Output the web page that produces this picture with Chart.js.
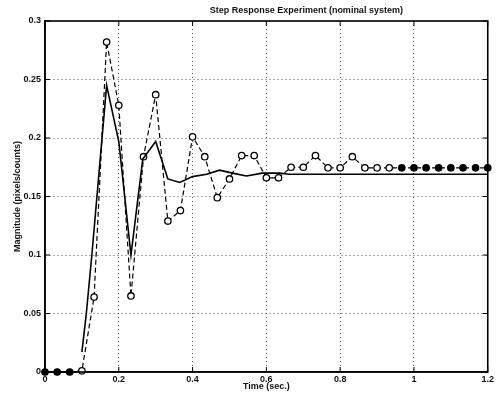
<!DOCTYPE html>
<html><head><meta charset="utf-8">
<script src="https://cdn.jsdelivr.net/npm/chart.js@4.4.1/dist/chart.umd.min.js"></script>
<style>html,body{margin:0;padding:0;background:#fff}canvas{display:block}</style>
</head><body>
<canvas id="c" width="496" height="398"></canvas>
<script>
const chartTitle = 'Step Response Experiment (nominal system)';
const xAxisTitle = 'Time (sec.)';
const yAxisTitle = 'Magnitude (pixels/counts)';
const xTickLabels = ['0','0.2','0.4','0.6','0.8','1','1.2'];
const yTickLabels = ['0','0.05','0.1','0.15','0.2','0.25','0.3'];

// experimental samples (dashed line with circles)
const expTimes = [0,0.033,0.067,0.1,0.133,0.167,0.2,0.233,0.267,0.3,0.333,0.367,0.4,0.433,0.467,0.5,0.533,0.567,0.6,0.633,0.667,0.7,0.733,0.767,0.8,0.833,0.867,0.9,0.933,0.967,1.0,1.033,1.067,1.1,1.133,1.167,1.2];
const expValues = [0,0,0,0.001,0.064,0.282,0.228,0.065,0.184,0.237,0.129,0.138,0.201,0.184,0.149,0.165,0.185,0.185,0.166,0.166,0.175,0.175,0.185,0.1745,0.1745,0.184,0.1745,0.1745,0.1745,0.1745,0.1745,0.1745,0.1745,0.1745,0.1745,0.1745,0.1745];

// model response (solid line)
const simTimes = [0.1,0.112,0.127,0.167,0.2,0.233,0.265,0.3,0.333,0.365,0.4,0.438,0.473,0.508,0.546,0.589,0.635,0.662,0.8,1.0,1.2];
const simValues = [0.017,0.05,0.1,0.245,0.197,0.1,0.182,0.197,0.165,0.162,0.167,0.169,0.1725,0.17,0.1675,0.17,0.17,0.169,0.169,0.169,0.169];

const FONT = '"Liberation Sans", Arial, Helvetica, sans-serif';

const framePlugin = {
  id: 'frame',
  afterDatasetsDraw(chart) {
    const {ctx, chartArea: a, scales: {x, y}} = chart;
    ctx.save();
    ctx.strokeStyle = '#000';
    ctx.lineWidth = 1;
    ctx.beginPath();
    x.ticks.forEach(t => {
      const p = x.getPixelForValue(t.value);
      ctx.moveTo(p, a.bottom); ctx.lineTo(p, a.bottom - 5);
      ctx.moveTo(p, a.top); ctx.lineTo(p, a.top + 5);
    });
    y.ticks.forEach(t => {
      const p = y.getPixelForValue(t.value);
      ctx.moveTo(a.left, p); ctx.lineTo(a.left + 5, p);
      ctx.moveTo(a.right, p); ctx.lineTo(a.right - 5, p);
    });
    ctx.stroke();
    ctx.lineWidth = 1.6;
    ctx.strokeRect(a.left, a.top, a.right - a.left, a.bottom - a.top);
    ctx.font = 'bold 9px ' + FONT;
    ctx.textAlign = 'center';
    ctx.textBaseline = 'middle';
    ctx.fillStyle = '#111';
    ctx.fillText(chartTitle, (a.left + a.right) / 2 + 40, 11);
    ctx.restore();
  }
};

new Chart(document.getElementById('c'), {
  type: 'line',
  data: {
    datasets: [
      {
        label: 'model',
        data: simTimes.map((t, i) => ({x: t, y: simValues[i]})),
        borderColor: '#000',
        borderWidth: 1.6,
        pointRadius: 0,
        tension: 0,
        fill: false
      },
      {
        label: 'experiment',
        data: expTimes.map((t, i) => ({x: t, y: expValues[i]})),
        borderColor: '#000',
        borderWidth: 1.2,
        borderDash: [5, 3],
        pointRadius: 3.2,
        pointBorderWidth: 1.3,
        pointBorderColor: '#000',
        pointBackgroundColor: c => (c.raw && (c.raw.x > 0.95 || c.raw.x < 0.09)) ? '#000' : '#fff',
        tension: 0,
        fill: false,
        clip: 8
      }
    ]
  },
  options: {
    responsive: false,
    animation: false,
    devicePixelRatio: 1,
    layout: {padding: {left: 0, right: 0, top: 21, bottom: 0}},
    plugins: {legend: {display: false}, title: {display: false}, tooltip: {enabled: false}},
    scales: {
      x: {
        type: 'linear', min: 0, max: 1.2,
        afterFit: s => { s.height = 26; },
        grid: {color: '#555', lineWidth: 1, drawTicks: false},
        border: {display: true, color: '#000', width: 1.5, dash: [1, 3]},
        ticks: {stepSize: 0.2, padding: 2, color: '#111', font: {family: FONT, size: 9, weight: 'bold'},
          maxRotation: 0, callback: v => xTickLabels[Math.round(v / 0.2)]},
        title: {display: true, text: xAxisTitle, color: '#111', font: {family: FONT, size: 9, weight: 'bold'}, padding: {top: 0, bottom: 6}}
      },
      y: {
        type: 'linear', min: 0, max: 0.3,
        afterFit: s => { s.width = 45; },
        grid: {color: '#555', lineWidth: 1, drawTicks: false},
        border: {display: true, color: '#000', width: 1.5, dash: [1, 3]},
        ticks: {stepSize: 0.05, padding: 4, color: '#111', font: {family: FONT, size: 9, weight: 'bold'},
          callback: v => yTickLabels[Math.round(v / 0.05)]},
        title: {display: true, text: yAxisTitle, color: '#111', font: {family: FONT, size: 9, weight: 'bold'}, padding: {top: 12, bottom: 0}}
      }
    }
  },
  plugins: [framePlugin]
});
</script>
</body></html>
